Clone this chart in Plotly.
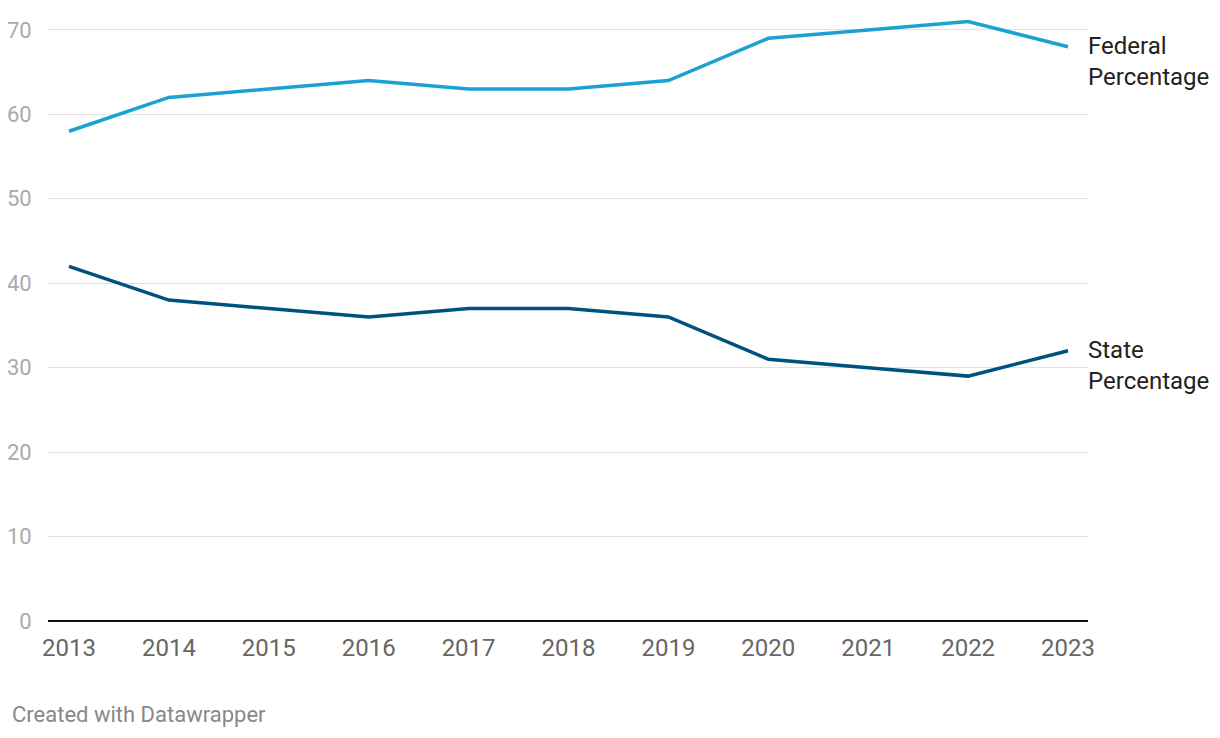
import plotly.graph_objects as go

years = [2013, 2014, 2015, 2016, 2017, 2018, 2019, 2020, 2021, 2022, 2023]
federal = [58, 62, 63, 64, 63, 63, 64, 69, 70, 71, 68]
state = [42, 38, 37, 36, 37, 37, 36, 31, 30, 29, 32]
y_ticks = [0, 10, 20, 30, 40, 50, 60, 70]

fed_color = "#1ba2d2"
state_color = "#00527e"

fig = go.Figure()
fig.add_trace(go.Scatter(x=years, y=federal, mode="lines", name="Federal Percentage",
                         line=dict(color=fed_color, width=3.5), cliponaxis=False))
fig.add_trace(go.Scatter(x=years, y=state, mode="lines", name="State Percentage",
                         line=dict(color=state_color, width=3.5), cliponaxis=False))

font = "Roboto, sans-serif"
fig.add_annotation(x=years[-1], y=federal[-1], text="Federal<br>Percentage", xref="x", yref="y",
                   xanchor="left", yanchor="middle", xshift=18, yshift=-15, showarrow=False,
                   align="left", font=dict(family=font, size=24, color="#222222"))
fig.add_annotation(x=years[-1], y=state[-1], text="State<br>Percentage", xref="x", yref="y",
                   xanchor="left", yanchor="middle", xshift=18, yshift=-15, showarrow=False,
                   align="left", font=dict(family=font, size=24, color="#222222"))
fig.add_annotation(xref="paper", yref="paper", x=-38/1040, y=-93/608,
                   xanchor="left", yanchor="middle",
                   text="Created with Datawrapper", showarrow=False,
                   font=dict(family=font, size=22, color="#888888"))

# page body has an 8px default margin, so the figure is offset by 8px
fig.update_layout(
    width=1212, height=730,
    margin=dict(l=40, r=132, t=5, b=117),
    paper_bgcolor="white", plot_bgcolor="white",
    showlegend=False,
    font=dict(family=font),
    xaxis=dict(range=[2012.79, 2023.2], tickmode="array", tickvals=years,
               ticktext=[str(y) for y in years], showgrid=False, zeroline=False,
               showline=False, ticks="outside", ticklen=5, tickcolor="rgba(0,0,0,0)",
               automargin=False,
               tickfont=dict(family=font, size=24, color="#666666")),
    yaxis=dict(range=[0, 72], tickmode="array", tickvals=y_ticks, showgrid=True,
               gridcolor="#e2e2e2", gridwidth=1, zeroline=True, zerolinecolor="#111111",
               zerolinewidth=2, showline=False, ticks="outside", ticklen=11,
               tickcolor="rgba(0,0,0,0)", automargin=False,
               tickfont=dict(family=font, size=22, color="#aaaaaa")),
)

fig.write_html("out.html")
